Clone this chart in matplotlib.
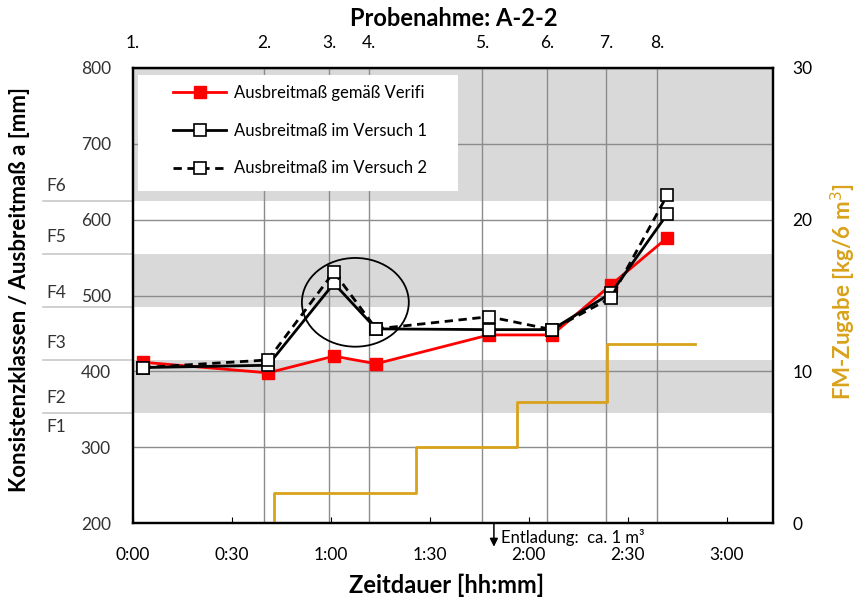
import matplotlib
matplotlib.use('Agg')
import matplotlib.pyplot as plt
from matplotlib.patches import Ellipse, Rectangle
import matplotlib.transforms as mtransforms

plt.rcParams['font.family'] = ['Lato', 'DejaVu Sans']

# Probe times [min] and spread values [mm]
probe_times = [3.0, 40.9, 60.9, 73.7, 107.9, 127.0, 144.9, 161.9]
verifi = [412, 398, 420, 410, 448, 448, 514, 576]
versuch1 = [405, 408, 516, 456, 455, 455, 503, 607]
versuch2 = [405, 415, 531, 456, 472, 455, 497, 632]

# Sampling lines (top axis)
probe_lines = [39.7, 59.4, 71.5, 105.8, 125.5, 143.4, 158.8]
probe_labels = ['1.', '2.', '3.', '4.', '5.', '6.', '7.', '8.']

# FM dosage steps [kg/6 m3]
fm_times = [42.7, 42.7, 85.8, 116.4, 143.7, 170.4]
fm_values = [0, 2, 5, 8, 11.8, 11.8]

# Consistency classes
class_bounds = [345, 415, 485, 555, 625]
gray_bands = [(345, 415), (485, 555), (625, 800)]
class_labels = ['F1', 'F2', 'F3', 'F4', 'F5', 'F6']
class_label_y = [327, 365, 437, 503, 577, 645]

time_ticks = [0, 30, 60, 90, 120, 150, 180]
time_labels = ['0:00', '0:30', '1:00', '1:30', '2:00', '2:30', '3:00']

gold = '#D9A21B'
gridc = '#8C8C8C'

fig = plt.figure(figsize=(8.61, 6.04), dpi=100)
ax = fig.add_axes([133/861, 1-523/604, 640/861, 455/604])
ax.set_xlim(0, 194)
ax.set_ylim(200, 800)

# gray class bands
for lo, hi in gray_bands:
    ax.axhspan(lo, hi, color='#D9D9D9', lw=0, zorder=0)

# class boundary lines left of the axis
trans = mtransforms.blended_transform_factory(ax.transAxes, ax.transData)
for b in class_bounds:
    ax.plot([-0.1406, 0], [b, b], color='#C8C8C8', lw=1.2, transform=trans,
            clip_on=False, zorder=1)
for lab, yv in zip(class_labels, class_label_y):
    ax.text(-0.136, yv, lab, transform=trans, fontsize=12.5, color='#333333',
            va='center', ha='left')

# grid
ax.set_yticks([200, 300, 400, 500, 600, 700, 800])
ax.yaxis.grid(True, color=gridc, lw=1.0)
for xl in probe_lines:
    ax.axvline(xl, color=gridc, lw=1.0, zorder=1.5)

# legend background box
ax.add_patch(Rectangle((5/640, 1-(191-68)/455), 320/640, 116/455,
                       transform=ax.transAxes, facecolor='white',
                       edgecolor='none', zorder=1.6))

ax.plot(probe_times, verifi, color='red', lw=2, marker='s', ms=8,
        mfc='red', mec='red', label='Ausbreitmaß gemäß Verifi', zorder=3)
ax.plot(probe_times, versuch1, color='black', lw=2, marker='s', ms=8,
        mfc='white', mec='black', mew=1.2, label='Ausbreitmaß im Versuch 1', zorder=4)
ax.plot(probe_times, versuch2, color='black', lw=2, ls=(0, (3, 2)), marker='s', ms=8,
        mfc='white', mec='black', mew=1.2, label='Ausbreitmaß im Versuch 2', zorder=5)

ax.add_patch(Ellipse((67.4, 491), width=32.4, height=117, fill=False,
                     edgecolor='black', lw=1.3, zorder=6))

leg = ax.legend(loc='upper left', bbox_to_anchor=(40/640, 1-(85-68)/455),
                frameon=False, fontsize=12, handlelength=3.2, handletextpad=0.45,
                labelspacing=1.3, borderpad=0, borderaxespad=0)

# axes styling
for s in ax.spines.values():
    s.set_linewidth(1.6)
    s.set_color('black')
ax.set_xticks(time_ticks)
ax.set_xticklabels(time_labels)
ax.tick_params(axis='x', direction='in', length=4, pad=17, labelsize=12.5, colors='black')
ax.tick_params(axis='y', length=0, pad=16, labelsize=12.5)
for t in ax.get_yticklabels():
    t.set_bbox(dict(facecolor='white', edgecolor='none', pad=1))
    t.set_color('#333333')

# top axis with sample numbers
top = ax.secondary_xaxis('top')
top.set_xticks([0] + probe_lines)
top.set_xticklabels(probe_labels)
top.tick_params(length=0, pad=12, labelsize=12.5)

# right axis for FM dosage
ax2 = ax.twinx()
ax2.set_ylim(0, 30)
ax2.set_yticks([0, 10, 20, 30])
ax2.tick_params(axis='y', length=0, pad=14, labelsize=12.5)
ax2.plot(fm_times, fm_values, color=gold, lw=2, drawstyle='steps-post', zorder=2)
for s in ax2.spines.values():
    s.set_linewidth(1.6)

# unloading annotation
ax.annotate('', xy=(109.4, 165), xytext=(109.4, 204),
            arrowprops=dict(arrowstyle='-|>', color='black', lw=1.1, mutation_scale=12),
            annotation_clip=False)
ax.text(111.5, 181, 'Entladung:  ca. 1 m³', fontsize=12, va='center', ha='left')

fig.text(454/861, 1-18/604, 'Probenahme: A-2-2', fontsize=17, fontweight='bold',
         ha='center', va='center')
fig.text(447/861, 1-585/604, 'Zeitdauer [hh:mm]', fontsize=17, fontweight='bold',
         ha='center', va='center')
fig.text(20/861, 1-290/604, 'Konsistenzklassen / Ausbreitmaß a [mm]', fontsize=16,
         fontweight='bold', rotation=90, ha='center', va='center')
fig.text(843/861, 1-292/604, 'FM-Zugabe [kg/6 m$^3$]', fontsize=16, fontweight='bold',
         rotation=90, ha='center', va='center', color=gold)

fig.savefig('out.png', dpi=100)
